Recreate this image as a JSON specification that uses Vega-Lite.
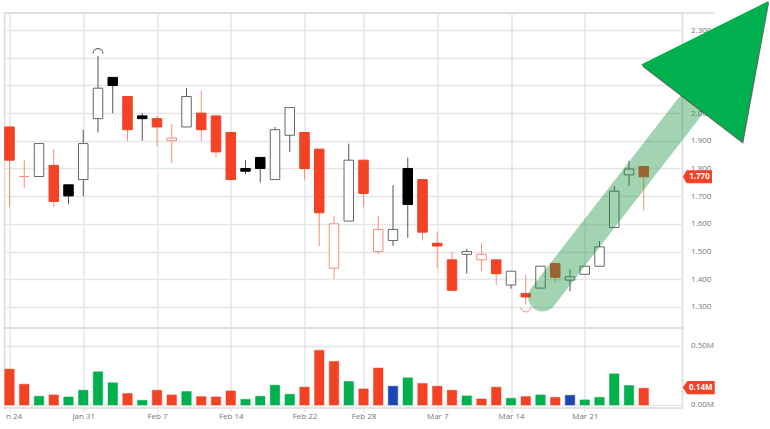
{"$schema":"https://vega.github.io/schema/vega-lite/v6.json","background":"#ffffff","padding":{"left":2.5,"top":0,"right":0,"bottom":0},"spacing":0,"bounds":"flush",
"resolve":{"scale":{"fill":"independent","stroke":"independent","color":"independent"}},
"config":{"view":{"stroke":"#dcdcdc","strokeWidth":1.5},"font":"Open Sans","axis":{"gridColor":"#e6e6e6","gridWidth":1.5,"domain":false,"title":null,"labelColor":"#777777","labelFont":"Open Sans","labelFontSize":8,"labelOverlap":false}},
"datasets":{"candles":[
{"i":0,"date":"Jan 24","o":1.95,"h":1.95,"l":1.66,"c":1.83,"d":"down","v":0.304,"vc":"down"},
{"i":1,"date":"Jan 25","o":1.771,"h":1.83,"l":1.731,"c":1.771,"d":"down","v":0.176,"vc":"down"},
{"i":2,"date":"Jan 26","o":1.771,"h":1.89,"l":1.771,"c":1.89,"d":"up","v":0.074,"vc":"up"},
{"i":3,"date":"Jan 27","o":1.811,"h":1.87,"l":1.661,"c":1.681,"d":"down","v":0.085,"vc":"down"},
{"i":4,"date":"Jan 28","o":1.741,"h":1.741,"l":1.671,"c":1.701,"d":"up","v":0.068,"vc":"up"},
{"i":5,"date":"Jan 31","o":1.76,"h":1.94,"l":1.7,"c":1.89,"d":"up","v":0.125,"vc":"up"},
{"i":6,"date":"Feb 1","o":1.98,"h":2.207,"l":1.93,"c":2.09,"d":"up","v":0.281,"vc":"up"},
{"i":7,"date":"Feb 2","o":2.129,"h":2.129,"l":1.999,"c":2.1,"d":"up","v":0.188,"vc":"up"},
{"i":8,"date":"Feb 3","o":2.06,"h":2.06,"l":1.9,"c":1.94,"d":"down","v":0.097,"vc":"down"},
{"i":9,"date":"Feb 4","o":1.99,"h":2.0,"l":1.9,"c":1.98,"d":"up","v":0.04,"vc":"up"},
{"i":10,"date":"Feb 7","o":1.98,"h":1.99,"l":1.88,"c":1.95,"d":"down","v":0.125,"vc":"down"},
{"i":11,"date":"Feb 8","o":1.9,"h":1.96,"l":1.82,"c":1.91,"d":"down","v":0.085,"vc":"down"},
{"i":12,"date":"Feb 9","o":1.95,"h":2.09,"l":1.95,"c":2.06,"d":"up","v":0.114,"vc":"up"},
{"i":13,"date":"Feb 10","o":2.0,"h":2.08,"l":1.9,"c":1.94,"d":"down","v":0.071,"vc":"down"},
{"i":14,"date":"Feb 11","o":1.99,"h":1.99,"l":1.84,"c":1.86,"d":"down","v":0.068,"vc":"down"},
{"i":15,"date":"Feb 14","o":1.93,"h":1.93,"l":1.76,"c":1.76,"d":"down","v":0.119,"vc":"down"},
{"i":16,"date":"Feb 15","o":1.8,"h":1.83,"l":1.78,"c":1.79,"d":"up","v":0.048,"vc":"up"},
{"i":17,"date":"Feb 16","o":1.84,"h":1.84,"l":1.75,"c":1.8,"d":"up","v":0.074,"vc":"up"},
{"i":18,"date":"Feb 17","o":1.76,"h":1.95,"l":1.76,"c":1.94,"d":"up","v":0.168,"vc":"up"},
{"i":19,"date":"Feb 18","o":1.92,"h":2.02,"l":1.86,"c":2.02,"d":"up","v":0.091,"vc":"up"},
{"i":20,"date":"Feb 22","o":1.93,"h":1.93,"l":1.76,"c":1.8,"d":"down","v":0.151,"vc":"down"},
{"i":21,"date":"Feb 23","o":1.87,"h":1.87,"l":1.52,"c":1.64,"d":"down","v":0.463,"vc":"down"},
{"i":22,"date":"Feb 24","o":1.44,"h":1.63,"l":1.4,"c":1.6,"d":"down","v":0.369,"vc":"down"},
{"i":23,"date":"Feb 25","o":1.61,"h":1.89,"l":1.61,"c":1.83,"d":"up","v":0.199,"vc":"up"},
{"i":24,"date":"Feb 28","o":1.83,"h":1.83,"l":1.66,"c":1.71,"d":"down","v":0.136,"vc":"down"},
{"i":25,"date":"Mar 1","o":1.5,"h":1.63,"l":1.49,"c":1.58,"d":"down","v":0.313,"vc":"down"},
{"i":26,"date":"Mar 2","o":1.54,"h":1.74,"l":1.52,"c":1.58,"d":"up","v":0.159,"vc":"flat"},
{"i":27,"date":"Mar 3","o":1.8,"h":1.84,"l":1.55,"c":1.67,"d":"up","v":0.23,"vc":"up"},
{"i":28,"date":"Mar 4","o":1.76,"h":1.76,"l":1.54,"c":1.57,"d":"down","v":0.182,"vc":"down"},
{"i":29,"date":"Mar 7","o":1.53,"h":1.57,"l":1.44,"c":1.52,"d":"down","v":0.159,"vc":"down"},
{"i":30,"date":"Mar 8","o":1.47,"h":1.5,"l":1.36,"c":1.36,"d":"down","v":0.125,"vc":"down"},
{"i":31,"date":"Mar 9","o":1.49,"h":1.51,"l":1.42,"c":1.5,"d":"up","v":0.077,"vc":"up"},
{"i":32,"date":"Mar 10","o":1.47,"h":1.53,"l":1.43,"c":1.49,"d":"down","v":0.051,"vc":"down"},
{"i":33,"date":"Mar 11","o":1.47,"h":1.47,"l":1.38,"c":1.42,"d":"down","v":0.151,"vc":"down"},
{"i":34,"date":"Mar 14","o":1.379,"h":1.429,"l":1.366,"c":1.429,"d":"up","v":0.057,"vc":"up"},
{"i":35,"date":"Mar 15","o":1.348,"h":1.417,"l":1.308,"c":1.336,"d":"down","v":0.071,"vc":"down"},
{"i":36,"date":"Mar 16","o":1.368,"h":1.447,"l":1.368,"c":1.447,"d":"up","v":0.085,"vc":"up"},
{"i":37,"date":"Mar 17","o":1.457,"h":1.457,"l":1.388,"c":1.407,"d":"down","v":0.065,"vc":"down"},
{"i":38,"date":"Mar 18","o":1.397,"h":1.436,"l":1.357,"c":1.409,"d":"up","v":0.082,"vc":"flat"},
{"i":39,"date":"Mar 21","o":1.418,"h":1.447,"l":1.418,"c":1.447,"d":"up","v":0.043,"vc":"up"},
{"i":40,"date":"Mar 22","o":1.447,"h":1.538,"l":1.447,"c":1.517,"d":"up","v":0.065,"vc":"up"},
{"i":41,"date":"Mar 23","o":1.587,"h":1.737,"l":1.587,"c":1.718,"d":"up","v":0.264,"vc":"up"},
{"i":42,"date":"Mar 24","o":1.777,"h":1.828,"l":1.737,"c":1.798,"d":"up","v":0.165,"vc":"up"},
{"i":43,"date":"Mar 25","o":1.807,"h":1.807,"l":1.648,"c":1.77,"d":"down","v":0.142,"vc":"down"}
],
"shaft":[{"i":36.14,"p":1.336,"k":0},{"i":46.1,"p":2.021,"k":1}],
"head":[{"i":42.83,"p":2.176,"k":0},{"i":51.46,"p":2.405,"k":1},{"i":49.67,"p":1.897,"k":2}],
"headShadow":[{"i":42.9,"p":2.168,"k":0},{"i":51.5,"p":2.4,"k":1},{"i":49.74,"p":1.889,"k":2}],
"frameTop":[{"a":-0.339,"b":47.8,"p":2.3616}]},
"vconcat":[
{"width":678,"height":315,"resolve":{"scale":{"stroke":"independent"}},"layer":[
{"data":{"name":"candles"},"mark":{"type":"rule","strokeWidth":1},
 "encoding":{"x":{"field":"i","type":"quantitative","scale":{"domain":[-0.339,45.627],"nice":false,"zero":false,"padding":0},"axis":{"values":[0,5,10,15,20,24,29,34,39],"tickCount":20,"labels":false,"ticks":false}},
 "y":{"field":"l","type":"quantitative","scale":{"domain":[1.2239,2.3616],"nice":false,"zero":false},"axis":{"orient":"right","values":[1.3,1.4,1.5,1.6,1.7,1.8,1.9,2.0,2.1,2.2,2.3],"tickCount":20,"format":".3f","ticks":false,"labelPadding":8}},
 "y2":{"field":"h"},
 "color":{"field":"d","type":"nominal","scale":{"domain":["up","down"],"range":["#555555","#f98d7c"]},"legend":null}}},
{"data":{"name":"candles"},"transform":[{"filter":"datum.c>=datum.o"}],"mark":{"type":"bar","size":9.5,"fill":"#ffffff","strokeWidth":1},
 "encoding":{"x":{"field":"i","type":"quantitative"},"y":{"field":"o","type":"quantitative"},"y2":{"field":"c"},
 "stroke":{"field":"d","type":"nominal","scale":{"domain":["up","down"],"range":["#666666","#f98d7c"]},"legend":null}}},
{"data":{"name":"candles"},"transform":[{"filter":"datum.c<datum.o"}],"mark":{"type":"bar","size":9.5,"strokeWidth":1},
 "encoding":{"x":{"field":"i","type":"quantitative"},"y":{"field":"o","type":"quantitative"},"y2":{"field":"c"},
 "fill":{"field":"d","type":"nominal","scale":{"domain":["up","down"],"range":["#000000","#f44225"]},"legend":null},
 "stroke":{"field":"d","type":"nominal","scale":{"domain":["up","down"],"range":["#000000","#f44225"]},"legend":null}}},
{"data":{"values":[{"i":6,"p":2.215}]},"mark":{"type":"point","shape":"M-1,0A1,1,0,0,1,1,0","size":100,"filled":false,"stroke":"#444444","strokeWidth":1,"opacity":1},
 "encoding":{"x":{"field":"i","type":"quantitative"},"y":{"field":"p","type":"quantitative"}}},
{"data":{"values":[{"i":35,"p":1.3}]},"mark":{"type":"point","shape":"M-1,0A1,1,0,0,0,1,0","size":100,"filled":false,"stroke":"#f98d7c","strokeWidth":1,"opacity":1},
 "encoding":{"x":{"field":"i","type":"quantitative"},"y":{"field":"p","type":"quantitative"}}},
{"data":{"name":"frameTop"},"mark":{"type":"rule","color":"#dcdcdc","strokeWidth":1.5},
 "encoding":{"x":{"field":"a","type":"quantitative"},"x2":{"field":"b"},"y":{"field":"p","type":"quantitative"}}},
{"data":{"values":[{"i":46.64,"p":1.77,"t":"1.770"}]},"layer":[
 {"mark":{"type":"point","shape":"M-0.97,0L-0.72,-0.43L0.97,-0.43L0.97,0.43L-0.72,0.43Z","size":900,"filled":true,"fill":"#f44225","opacity":1},
  "encoding":{"x":{"field":"i","type":"quantitative"},"y":{"field":"p","type":"quantitative"}}},
 {"mark":{"type":"text","color":"#ffffff","fontWeight":"bold","fontSize":8,"dx":2,"font":"Open Sans"},
  "encoding":{"x":{"field":"i","type":"quantitative"},"y":{"field":"p","type":"quantitative"},"text":{"field":"t"}}}]},
{"data":{"name":"shaft"},"mark":{"type":"line","color":"#19933e","strokeWidth":29,"strokeCap":"round","opacity":0.4},
 "encoding":{"x":{"field":"i","type":"quantitative"},"y":{"field":"p","type":"quantitative"},"order":{"field":"k"}}},
{"data":{"name":"headShadow"},"mark":{"type":"line","fill":"#333333","stroke":null,"opacity":0.75},
 "encoding":{"x":{"field":"i","type":"quantitative"},"y":{"field":"p","type":"quantitative"},"order":{"field":"k"}}},
{"data":{"name":"head"},"mark":{"type":"line","fill":"#00b04f","stroke":null,"opacity":1},
 "encoding":{"x":{"field":"i","type":"quantitative"},"y":{"field":"p","type":"quantitative"},"order":{"field":"k"}}}
]},
{"width":678,"height":80,"layer":[
{"data":{"name":"candles"},"mark":{"type":"bar","size":9.5,"strokeWidth":0.8,"strokeOpacity":0.6},
 "encoding":{"x":{"field":"i","type":"quantitative","scale":{"domain":[-0.339,45.627],"nice":false,"zero":false,"padding":0},"axis":{"values":[0,5,10,15,20,24,29,34,39],"tickCount":20,"tickColor":"#e6e6e6","tickSize":4,"tickWidth":1.5,"labelPadding":0,"labelAlign":{"condition":{"test":"datum.value==0","value":"left"},"value":"center"},"labelOffset":{"condition":{"test":"datum.value==0","value":-4},"value":0},"labelExpr":"{0:'n 24',5:'Jan 31',10:'Feb 7',15:'Feb 14',20:'Feb 22',24:'Feb 28',29:'Mar 7',34:'Mar 14',39:'Mar 21'}[datum.value]"}},
 "y":{"field":"v","type":"quantitative","scale":{"domain":[-0.0256,0.652],"nice":false,"zero":false},"axis":{"orient":"right","values":[0,0.5],"tickCount":5,"labelExpr":"format(datum.value,'.2f')+'M'","ticks":false,"labelPadding":8}},
 "y2":{"datum":0},
 "fill":{"field":"vc","type":"nominal","scale":{"domain":["up","down","flat"],"range":["#00b04f","#f44225","#1a47b5"]},"legend":null},
 "stroke":{"field":"vc","type":"nominal","scale":{"domain":["up","down","flat"],"range":["#00b04f","#f44225","#1a47b5"]},"legend":null}}},
{"data":{"values":[{"i":46.73,"p":0.147,"t":"0.14M"}]},"layer":[
 {"mark":{"type":"point","shape":"M-1,0L-0.72,-0.41L1,-0.41L1,0.41L-0.72,0.41Z","size":1024,"filled":true,"fill":"#f44225","opacity":1},
  "encoding":{"x":{"field":"i","type":"quantitative"},"y":{"field":"p","type":"quantitative"}}},
 {"mark":{"type":"text","color":"#ffffff","fontWeight":"bold","fontSize":8,"dx":2,"font":"Open Sans"},
  "encoding":{"x":{"field":"i","type":"quantitative"},"y":{"field":"p","type":"quantitative"},"text":{"field":"t"}}}]}
]}
]}
